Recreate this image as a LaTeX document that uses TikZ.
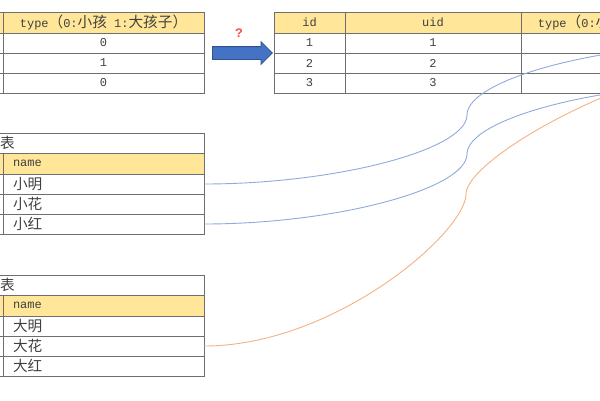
\documentclass[tikz,border=0pt]{standalone}
\usepackage{fontspec}
\setmainfont{Liberation Mono}
\newfontfamily\cjk[Scale=1.22]{Noto Sans CJK SC}
\usetikzlibrary{positioning, shapes.arrows}
\definecolor{headyellow}{HTML}{FFE699}
\definecolor{gridgray}{HTML}{6E6E6E}
\definecolor{textgray}{HTML}{404040}
\definecolor{arrowblue}{HTML}{4472C4}
\definecolor{arrowedge}{HTML}{2F528F}
\definecolor{qred}{HTML}{FF4B4B}
\definecolor{linkblue}{HTML}{8FAADC}
\definecolor{linkorange}{HTML}{F4B183}
\newcommand{\zh}[1]{{\cjk #1}}

\begin{document}
\begin{tikzpicture}[x=1pt, y=-1pt,
        cell/.style={rectangle, draw=gridgray, line width=0.8pt, minimum height=20pt, inner sep=0pt, outer sep=0pt, text=textgray, font=\fontsize{12}{14}\selectfont},
        head/.style={cell, fill=headyellow, minimum height=21pt},
        namecell/.style={cell, text width=181pt, inner xsep=10pt, align=left},
        namehead/.style={namecell, fill=headyellow, minimum height=21pt},
        bigarrow/.style={single arrow, fill=arrowblue, draw=arrowedge, line width=0.8pt, minimum height=60pt, inner xsep=0pt, inner ysep=6pt, single arrow head extend=5pt},
        qmark/.style={text=qred, font=\bfseries\fontsize{13}{14}\selectfont},
        link/.style={line width=0.9pt}
    ]
    \useasboundingbox (0,0) rectangle (600,400);
    \clip (0,0) rectangle (600,400);

    \node[head, minimum width=201pt, anchor=north west] (ltype) at (3,12) {type\zh{（}0:\zh{小孩} 1:\zh{大孩子}\zh{）}};
    \node[cell, minimum width=201pt, below=0pt of ltype] (lt1) {0};
    \node[cell, minimum width=201pt, below=0pt of lt1] (lt2) {1};
    \node[cell, minimum width=201pt, below=0pt of lt2] (lt3) {0};
    \node[head, minimum width=60pt, left=0pt of ltype] (lid) {};
    \node[cell, minimum width=60pt, left=0pt of lt1] (lid1) {};
    \node[cell, minimum width=60pt, left=0pt of lt2] (lid2) {};
    \node[cell, minimum width=60pt, left=0pt of lt3] (lid3) {};

    \node[bigarrow, anchor=tail] (arrow) at (212,53) {};
    \node[qmark] (q) at (239,33) {?};

    \node[head, minimum width=71pt, anchor=north west] (rid) at (274,12) {id};
    \node[head, minimum width=176pt, right=0pt of rid] (ruid) {uid};
    \node[head, minimum width=201pt, right=0pt of ruid] (rtype) {type\zh{（}0:\zh{小孩} 1:\zh{大孩子}\zh{）}};
    \node[cell, minimum width=71pt, below=0pt of rid] (rid1) {1};
    \node[cell, minimum width=71pt, below=0pt of rid1] (rid2) {2};
    \node[cell, minimum width=71pt, below=0pt of rid2] (rid3) {3};
    \node[cell, minimum width=176pt, below=0pt of ruid] (ruid1) {1};
    \node[cell, minimum width=176pt, below=0pt of ruid1] (ruid2) {2};
    \node[cell, minimum width=176pt, below=0pt of ruid2] (ruid3) {3};
    \node[cell, minimum width=201pt, below=0pt of rtype] (rtype1) {};
    \node[cell, minimum width=201pt, below=0pt of rtype1] (rtype2) {};
    \node[cell, minimum width=201pt, below=0pt of rtype2] (rtype3) {};

    \node[cell, anchor=north west, text width=203pt, inner xsep=1pt, align=left] (xtitle) at (-1,133) {\zh{表}};
    \node[namehead, anchor=north east] (xname) at (xtitle.south east) {name};
    \node[namecell, below=0pt of xname] (xming) {\zh{小明}};
    \node[namecell, below=0pt of xming] (xhua) {\zh{小花}};
    \node[namecell, below=0pt of xhua] (xhong) {\zh{小红}};
    \node[head, minimum width=60pt, left=0pt of xname] (xid) {};
    \node[cell, minimum width=60pt, left=0pt of xming] (xid1) {};
    \node[cell, minimum width=60pt, left=0pt of xhua] (xid2) {};
    \node[cell, minimum width=60pt, left=0pt of xhong] (xid3) {};

    \node[cell, anchor=north west, text width=203pt, inner xsep=1pt, align=left] (dtitle) at (-1,275) {\zh{表}};
    \node[namehead, anchor=north east] (dname) at (dtitle.south east) {name};
    \node[namecell, below=0pt of dname] (dming) {\zh{大明}};
    \node[namecell, below=0pt of dming] (dhua) {\zh{大花}};
    \node[namecell, below=0pt of dhua] (dhong) {\zh{大红}};
    \node[head, minimum width=60pt, left=0pt of dname] (did) {};
    \node[cell, minimum width=60pt, left=0pt of dming] (did1) {};
    \node[cell, minimum width=60pt, left=0pt of dhua] (did2) {};
    \node[cell, minimum width=60pt, left=0pt of dhong] (did3) {};

    \coordinate (m1) at (467,115);
    \coordinate (e1) at (729,44);
    \coordinate (m2) at (467,154);
    \coordinate (e2) at (730,84);
    \coordinate (m3) at (466,194);
    \coordinate (e3) at (863,40);
    \draw[link, linkblue] (xming.east) .. controls +(131,0) and +(0,35) .. (m1) .. controls +(0,-35) and +(-131,0) .. (e1);
    \draw[link, linkblue] (xhong.east) .. controls +(131,0) and +(0,35) .. (m2) .. controls +(0,-35) and +(-131,0) .. (e2);
    \draw[link, linkorange] (dhua.east) .. controls +(131,0) and +(0,38) .. (m3) .. controls +(0,-38) and +(-198,0) .. (e3);
\end{tikzpicture}
\end{document}
